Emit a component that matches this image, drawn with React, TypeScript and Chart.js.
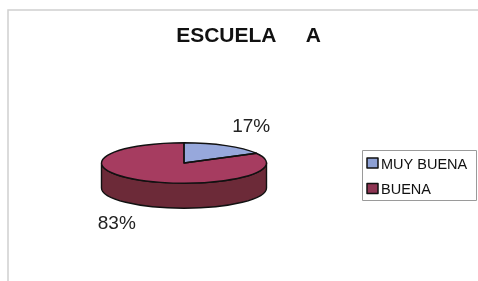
import { useEffect, useRef } from "react";
import { Chart, registerables } from "chart.js";

Chart.register(...registerables);

const chartTitle = "ESCUELA     A";
const categories = ["MUY BUENA", "BUENA"];
const values = [17, 83];
const topColors = ["#97a8dc", "#a63c60"];
const sideColors = ["#4f5f90", "#6c2a38"];
const legendColors = ["#8da0d4", "#8e3553"];

const TILT = 0.245;
const DEPTH = 25;
const FONT = '"Liberation Sans", Arial, sans-serif';

const pie3d = {
  id: "pie3d",
  beforeDraw(chart: any) {
    const ctx = chart.ctx;
    ctx.save();
    ctx.fillStyle = "#ffffff";
    ctx.fillRect(0, 0, chart.width, chart.height);
    ctx.strokeStyle = "#d0d0d0";
    ctx.lineWidth = 1.5;
    ctx.strokeRect(8, 10, chart.width, chart.height);
    ctx.restore();
  },
  beforeDatasetsDraw(chart: any) {
    const ctx = chart.ctx;
    const arcs = chart.getDatasetMeta(0).data;
    ctx.save();
    arcs.forEach((arc: any, i: number) => {
      const { x, y, startAngle, endAngle, outerRadius } = arc.getProps(
        ["x", "y", "startAngle", "endAngle", "outerRadius"],
        true
      );
      const ry = outerRadius * TILT;
      const a0 = Math.max(startAngle, 0);
      const a1 = Math.min(endAngle, Math.PI);
      if (a1 <= a0) return;
      ctx.beginPath();
      ctx.ellipse(x, y, outerRadius, ry, 0, a0, a1);
      ctx.lineTo(x + outerRadius * Math.cos(a1), y + ry * Math.sin(a1) + DEPTH);
      ctx.ellipse(x, y + DEPTH, outerRadius, ry, 0, a1, a0, true);
      ctx.closePath();
      ctx.fillStyle = sideColors[i];
      ctx.fill();
      ctx.strokeStyle = "#111";
      ctx.lineWidth = 1.4;
      ctx.lineJoin = "round";
      ctx.stroke();
    });
    ctx.restore();
    const cy = arcs[0].y;
    ctx.save();
    ctx.translate(0, cy);
    ctx.scale(1, TILT);
    ctx.translate(0, -cy);
  },
  afterDatasetsDraw(chart: any) {
    const ctx = chart.ctx;
    ctx.restore();
    const arcs = chart.getDatasetMeta(0).data;
    const ds = chart.data.datasets[0].data as number[];
    const total = ds.reduce((a, b) => a + b, 0);
    ctx.save();
    arcs.forEach((arc: any, i: number) => {
      const { x, y, startAngle, endAngle, outerRadius } = arc.getProps(
        ["x", "y", "startAngle", "endAngle", "outerRadius"],
        true
      );
      const ry = outerRadius * TILT;
      ctx.beginPath();
      ctx.moveTo(x, y);
      ctx.ellipse(x, y, outerRadius, ry, 0, startAngle, endAngle);
      ctx.closePath();
      ctx.strokeStyle = "#111";
      ctx.lineWidth = 1.4;
      ctx.lineJoin = "round";
      ctx.stroke();

      const mid = (startAngle + endAngle) / 2;
      const s = Math.sin(mid);
      const lx = x + Math.cos(mid) * outerRadius * 1.6;
      const ly = y + s * ry * 2.1 + (s > 0 ? DEPTH * 0.95 : 0);
      ctx.fillStyle = "#222";
      ctx.font = `19px ${FONT}`;
      ctx.textAlign = "center";
      ctx.textBaseline = "middle";
      ctx.fillText(Math.round((ds[i] / total) * 100) + "%", lx, ly);
    });

    // title
    ctx.fillStyle = "#111";
    ctx.font = `bold 21px ${FONT}`;
    ctx.textAlign = "center";
    ctx.textBaseline = "alphabetic";
    ctx.fillText(chartTitle, 248.5, 42);

    // legend
    ctx.fillStyle = "#fff";
    ctx.fillRect(362.5, 150.5, 114, 50);
    ctx.strokeStyle = "#9a9a9a";
    ctx.lineWidth = 1;
    ctx.strokeRect(362.5, 150.5, 114, 50);
    const labels = chart.data.labels as string[];
    labels.forEach((lab, i) => {
      const yy = 158 + i * 25.5;
      ctx.fillStyle = legendColors[i];
      ctx.fillRect(367, yy, 11, 10);
      ctx.strokeStyle = "#111";
      ctx.lineWidth = 1.5;
      ctx.strokeRect(367, yy, 11, 10);
      ctx.fillStyle = "#111";
      ctx.font = `14.5px ${FONT}`;
      ctx.textAlign = "left";
      ctx.textBaseline = "alphabetic";
      ctx.fillText(lab, 381, yy + 10.5);
    });
    ctx.restore();
  },
};

export default function App() {
  const ref = useRef<HTMLCanvasElement | null>(null);
  useEffect(() => {
    if (!ref.current) return;
    const chart = new Chart(ref.current, {
      type: "pie",
      data: {
        labels: categories,
        datasets: [
          {
            data: values,
            backgroundColor: topColors,
            borderWidth: 0,
            radius: 82.5,
            clip: false as any,
          } as any,
        ],
      },
      options: {
        responsive: false,
        animation: false,
        layout: { padding: { left: 92, right: 202, top: 73, bottom: 28 } },
        plugins: {
          legend: { display: false },
          title: { display: false },
          tooltip: { enabled: false },
        },
        events: [],
      },
      plugins: [pie3d],
    });
    return () => chart.destroy();
  }, []);
  return (
    <div style={{ position: "absolute", left: 0, top: 0, width: 478, height: 281 }}>
      <canvas ref={ref} width={478} height={281} style={{ display: "block" }} />
    </div>
  );
}
